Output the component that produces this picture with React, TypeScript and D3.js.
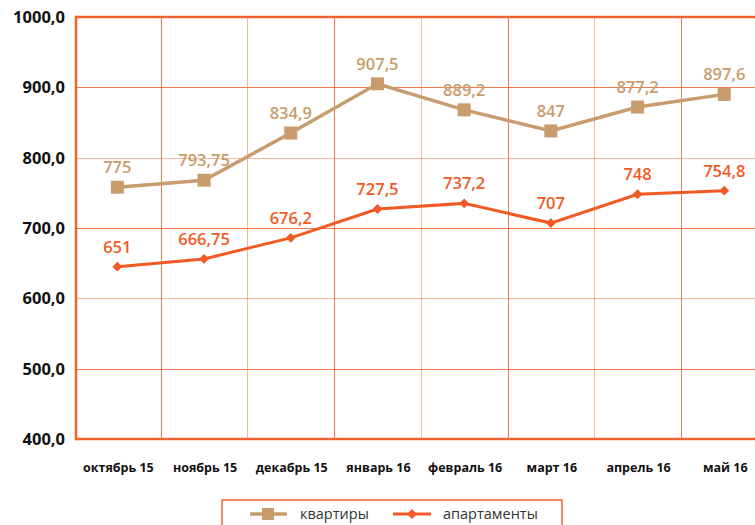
import React, { useEffect, useRef } from 'react';
import * as d3 from 'd3';

const months = ['октябрь 15', 'ноябрь 15', 'декабрь 15', 'январь 16', 'февраль 16', 'март 16', 'апрель 16', 'май 16'];
const flats = [758, 768, 835, 905, 868, 838, 872, 890];
const flatLabels = ['775', '793,75', '834,9', '907,5', '889,2', '847', '877,2', '897,6'];
const apartments = [645, 656, 686, 727, 735, 707, 748, 753];
const apartmentLabels = ['651', '666,75', '676,2', '727,5', '737,2', '707', '748', '754,8'];
const yTicks = [400, 500, 600, 700, 800, 900, 1000];

const W = 755;
const H = 525;
const FLAT = '#C89C6C';
const APT = '#F15A24';
const FRAME = '#F26330';
const GRID = '#F26B3A';
const FONT = '"Open Sans", "DejaVu Sans", sans-serif';

const App: React.FC = () => {
    const svgRef = useRef<SVGSVGElement>(null);

    useEffect(() => {
        if (!svgRef.current) return;
        const svg = d3.select(svgRef.current);
        svg.selectAll('*').remove();

        const left = 76, top = 17, bottom = 439;

        const x = d3.scaleBand<string>()
            .domain(months)
            .range([74, 74 + 86.7 * months.length])
            .padding(0);
        const cx = (i: number) => x(months[i])! + x.bandwidth() / 2;

        const y = d3.scaleLinear().domain([400, 1000]).range([bottom, top]);
        const crisp = (v: number) => Math.round(v) + 0.5;

        // grid
        const grid = svg.append('g');
        grid.selectAll('.hg')
            .data(yTicks.filter(t => t > 400 && t < 1000))
            .join('line')
            .attr('x1', left).attr('x2', W)
            .attr('y1', d => crisp(y(d))).attr('y2', d => crisp(y(d)))
            .attr('stroke', GRID)
            .attr('stroke-opacity', (d, i) => (i % 2 === 0 ? 0.9 : 0.5))
            .attr('stroke-width', 1);
        grid.selectAll('.vg')
            .data(months.slice(1))
            .join('line')
            .attr('x1', d => crisp(x(d)!)).attr('x2', d => crisp(x(d)!))
            .attr('y1', top).attr('y2', bottom)
            .attr('stroke', GRID)
            .attr('stroke-opacity', (d, i) => (i % 2 === 0 ? 0.9 : 0.5))
            .attr('stroke-width', 1);

        // frame
        svg.append('line').attr('x1', left).attr('x2', W).attr('y1', top).attr('y2', top)
            .attr('stroke', FRAME).attr('stroke-width', 2.5);
        svg.append('line').attr('x1', left).attr('x2', W).attr('y1', bottom).attr('y2', bottom)
            .attr('stroke', FRAME).attr('stroke-width', 2.5);
        svg.append('line').attr('x1', left).attr('x2', left).attr('y1', top - 1.25).attr('y2', bottom + 1.25)
            .attr('stroke', FRAME).attr('stroke-width', 2.5);

        // y axis labels
        svg.append('g').selectAll('text')
            .data(yTicks)
            .join('text')
            .attr('x', 65)
            .attr('y', d => y(d))
            .attr('dy', '0.36em')
            .attr('text-anchor', 'end')
            .attr('font-family', FONT)
            .attr('font-weight', 700)
            .attr('font-size', 16.5)
            .attr('fill', '#111')
            .text(d => d3.format('.1f')(d).replace('.', ','));

        // x axis labels
        svg.append('g').selectAll('text')
            .data(months)
            .join('text')
            .attr('x', (d, i) => cx(i) + 1)
            .attr('y', 472)
            .attr('text-anchor', 'middle')
            .attr('font-family', FONT)
            .attr('font-weight', 700)
            .attr('font-size', 12.5)
            .attr('fill', '#111')
            .text(d => d);

        const line = d3.line<number>().x((d, i) => cx(i)).y(d => y(d));

        // квартиры
        svg.append('path').datum(flats).attr('d', line)
            .attr('fill', 'none').attr('stroke', FLAT).attr('stroke-width', 3.5);
        svg.append('g').selectAll('rect')
            .data(flats)
            .join('rect')
            .attr('x', (d, i) => cx(i) - 6.5)
            .attr('y', d => y(d) - 6.5)
            .attr('width', 13).attr('height', 13)
            .attr('fill', FLAT);
        svg.append('g').selectAll('text')
            .data(flats)
            .join('text')
            .attr('x', (d, i) => cx(i))
            .attr('y', d => y(d) - 14)
            .attr('text-anchor', 'middle')
            .attr('font-family', FONT)
            .attr('font-weight', 600)
            .attr('font-size', 16.5)
            .attr('fill', FLAT)
            .text((d, i) => flatLabels[i]);

        // апартаменты
        svg.append('path').datum(apartments).attr('d', line)
            .attr('fill', 'none').attr('stroke', APT).attr('stroke-width', 3);
        const diamond = d3.symbol().type(d3.symbolSquare).size(48);
        svg.append('g').selectAll('path')
            .data(apartments)
            .join('path')
            .attr('transform', (d, i) => `translate(${cx(i)},${y(d)}) rotate(45)`)
            .attr('d', diamond as any)
            .attr('fill', APT);
        svg.append('g').selectAll('text')
            .data(apartments)
            .join('text')
            .attr('x', (d, i) => cx(i))
            .attr('y', d => y(d) - 14)
            .attr('text-anchor', 'middle')
            .attr('font-family', FONT)
            .attr('font-weight', 600)
            .attr('font-size', 16.5)
            .attr('fill', APT)
            .text((d, i) => apartmentLabels[i]);

        // legend
        const lg = svg.append('g');
        lg.append('rect').attr('x', 222).attr('y', 500).attr('width', 340).attr('height', 40)
            .attr('fill', 'none').attr('stroke', FRAME).attr('stroke-width', 1.5);
        lg.append('line').attr('x1', 250).attr('x2', 287).attr('y1', 514).attr('y2', 514)
            .attr('stroke', FLAT).attr('stroke-width', 3.5);
        lg.append('rect').attr('x', 262).attr('y', 508).attr('width', 12).attr('height', 12).attr('fill', FLAT);
        lg.append('text').attr('x', 300).attr('y', 519).attr('font-family', FONT).attr('font-size', 14.5)
            .attr('fill', '#333').text('квартиры');
        lg.append('line').attr('x1', 393).attr('x2', 431).attr('y1', 514).attr('y2', 514)
            .attr('stroke', APT).attr('stroke-width', 3);
        lg.append('path').attr('transform', 'translate(412,514) rotate(45)').attr('d', diamond as any).attr('fill', APT);
        lg.append('text').attr('x', 443).attr('y', 519).attr('font-family', FONT).attr('font-size', 14.5)
            .attr('fill', '#333').text('апартаменты');
    }, []);

    return (
        <div style={{ position: 'absolute', left: 0, top: 0, width: W, height: H, background: '#fff', overflow: 'hidden' }}>
            <svg ref={svgRef} width={W} height={H} style={{ display: 'block' }} />
        </div>
    );
};

export default App;
